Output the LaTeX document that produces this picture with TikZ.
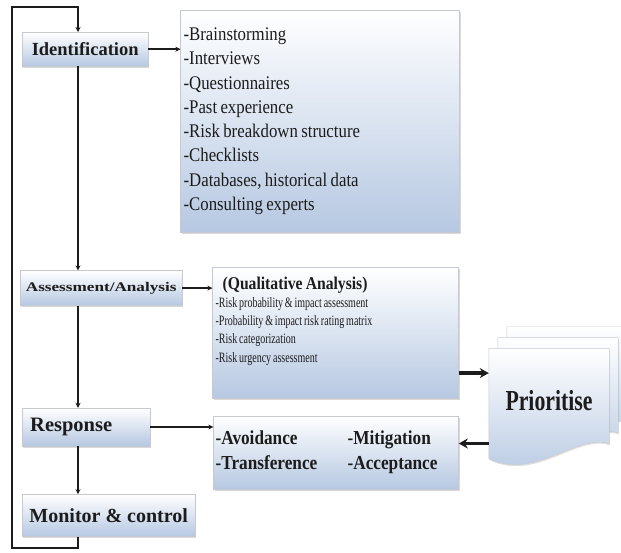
\documentclass[tikz,border=0pt]{standalone}
\usepackage{fontspec}
\setmainfont{Liberation Serif}
\newfontfamily\narrowfont{Liberation Serif}[FakeStretch=0.87, WordSpace=0.8]
\newfontfamily\tightfont{Liberation Serif}[FakeStretch=0.7, WordSpace=0.75]
\newfontfamily\widefont{Liberation Serif}[FakeStretch=1.3]
\newfontfamily\prifont{Liberation Serif}[FakeStretch=0.75]
\usetikzlibrary{arrows.meta, positioning, shadows, backgrounds}
\definecolor{ink}{HTML}{1C1C1C}
\definecolor{boxline}{HTML}{C6CAD0}
\definecolor{boxbot}{HTML}{B6C8E2}
\tikzset{
  stage/.style={rectangle, draw=boxline, top color=white, bottom color=boxbot, text=ink, inner sep=2pt, drop shadow={shadow xshift=1pt, shadow yshift=-1.5pt, opacity=0.3}},
  listbox/.style={rectangle, draw=boxline, top color=white, bottom color=boxbot, text=ink, inner sep=3pt, drop shadow={shadow xshift=1pt, shadow yshift=-1.5pt, opacity=0.3}},
  docsheet/.style={draw=boxline, top color=white, bottom color=boxbot, drop shadow={shadow xshift=1pt, shadow yshift=-1.5pt, opacity=0.25}},
  arrow/.style={-{Stealth[length=5pt, width=5pt]}, line width=1.6pt, draw=ink},
  bigarrow/.style={-{Stealth[length=9pt, width=10pt]}, line width=3.2pt, draw=ink},
}

\begin{document}
\begin{tikzpicture}[x=1pt, y=1pt]
  \useasboundingbox (0,0) rectangle (621,552);
  % process stages
  \node[stage, anchor=north west, minimum width=126pt, minimum height=34pt, font=\bfseries\fontsize{18.5}{20}\selectfont] (ident) at (22,520) {Identification};
  \node[stage, minimum width=162pt, minimum height=35pt, below=204pt of ident.south west, anchor=north west, xshift=-2pt, font=\widefont\bfseries\fontsize{13.2}{14}\selectfont] (assess) {Assessment/Analysis};
  \node[stage, minimum width=128pt, minimum height=38pt, text width=112pt, align=flush left, inner xsep=8pt, below=102pt of assess.south west, anchor=north west, xshift=2pt, font=\bfseries\fontsize{20.5}{22}\selectfont] (resp) {Response};
  \node[stage, minimum width=173pt, minimum height=42pt, below=48pt of resp.south west, anchor=north west, font=\bfseries\fontsize{20}{22}\selectfont] (monitor) {Monitor \& control};
  % lists
  \node[listbox, minimum width=279pt, minimum height=222pt, text width=273pt, align=flush left, right=32pt of ident.north east, anchor=north west, yshift=22pt, font=\narrowfont\fontsize{19.3}{24.3}\selectfont] (idlist) {-Brainstorming\\-Interviews\\-Questionnaires\\-Past experience\\-Risk breakdown structure\\-Checklists\\-Databases, historical data\\-Consulting experts};
  \node[listbox, minimum width=246pt, minimum height=131pt, right=30pt of assess.north east, anchor=north west, yshift=3pt] (qual) {};
  \node[below right=9pt and 3pt of qual.north west, align=left, inner sep=0pt, text=ink, font=\tightfont\fontsize{14.3}{18.3}\selectfont] (qualtext) {\hspace*{7pt}{\narrowfont\bfseries\fontsize{18}{18.3}\selectfont (Qualitative Analysis)}\\-Risk probability \& impact assessment\\-Probability \& impact risk rating matrix\\-Risk categorization\\-Risk urgency assessment};
  \node[listbox, minimum width=245pt, minimum height=73pt, text width=241pt, align=flush left, inner xsep=2pt, right=63pt of resp.north east, anchor=north west, yshift=-8pt, font=\narrowfont\bfseries\fontsize{19.8}{25}\selectfont] (resplist) {\makebox[132pt][l]{-Avoidance}-Mitigation\\\makebox[132pt][l]{-Transference}-Acceptance};
  % prioritise sheets
  \node[minimum width=120pt, minimum height=95pt, inner sep=0pt, text height=29pt, right=30pt of qual.north east, anchor=north west, yshift=-81pt, text=ink, font=\prifont\bfseries\fontsize{29}{30}\selectfont] (prio) {Prioritise};
  \begin{scope}[on background layer]
    \foreach \d in {18,9,0}
      \draw[docsheet] ([shift={(\d,1.2*\d)}]prio.north west) -- ([shift={(\d,1.2*\d)}]prio.north east) -- ([shift={(\d,1.2*\d)}]prio.south east) .. controls ([shift={(\d-33,1.2*\d+11)}]prio.south east) and ([shift={(\d+47,1.2*\d-37)}]prio.south west) .. ([shift={(\d,1.2*\d-15)}]prio.south west) -- cycle;
  \end{scope}
  % connectors
  \coordinate (spine) at (78,0);
  \coordinate (loopbl) at (12,4);
  \coordinate (looptl) at (12,545);
  \draw[arrow] (ident.south -| spine) -- (assess.north -| spine);
  \draw[arrow] (assess.south -| spine) -- (resp.north -| spine);
  \draw[arrow] (resp.south -| spine) -- (monitor.north -| spine);
  \draw[arrow] (monitor.south -| spine) |- (loopbl) -- (looptl) -| (ident.north -| spine);
  \draw[arrow] (ident.east) -- (ident.east -| idlist.west);
  \draw[arrow] (assess.east) -- (assess.east -| qual.west);
  \draw[arrow] (resp.east) -- (resp.east -| resplist.west);
  \draw[bigarrow] ([yshift=-40pt]qual.east) -- ([yshift=-40pt]qual.east -| prio.west);
  \draw[bigarrow] ([yshift=9pt]resplist.east -| prio.west) -- ([yshift=9pt]resplist.east);
\end{tikzpicture}
\end{document}
